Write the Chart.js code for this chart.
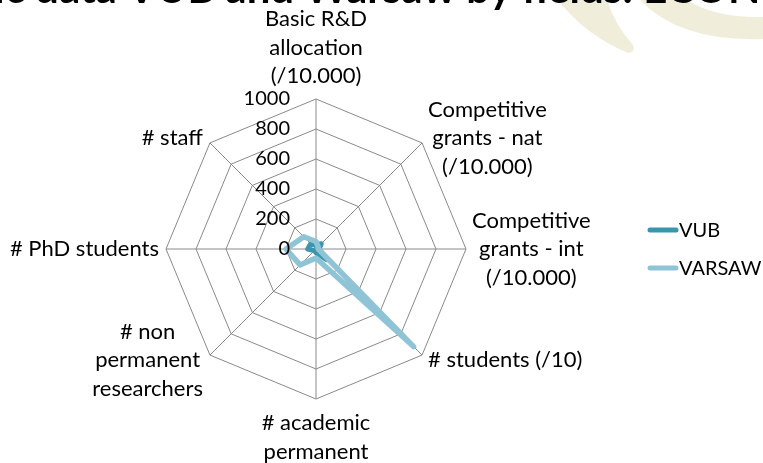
<!DOCTYPE html>
<html>
<head>
<meta charset="utf-8">
<script src="https://cdn.jsdelivr.net/npm/chart.js@4.4.1/dist/chart.umd.min.js"></script>
<style>
  html, body { margin: 0; padding: 0; background: #fff; }
  #wrap { width: 763px; height: 463px; position: relative; }
</style>
</head>
<body>
<div id="wrap"><canvas id="chart"></canvas></div>
<script>
const axisLabels = [
  ['Basic R&D', 'allocation', '(/10.000)'],
  ['Competitive', 'grants - nat', '(/10.000)'],
  ['Competitive', 'grants - int', '(/10.000)'],
  ['# students (/10)'],
  ['# academic', 'permanent'],
  ['# non', 'permanent', 'researchers'],
  ['# PhD students'],
  ['# staff'],
]
const vubValues = [25, 50, 20, 100, 25, 15, 55, 50]
const varsawValues = [50, 20, 15, 920, 60, 150, 200, 115]
const tickValues = [0, 200, 400, 600, 800, 1000]

const LABEL_FONT = '22px Lato'
const TICK_FONT = '20px Lato'
const LINE_H = 28.5

// pale swoosh + cut-off slide title behind the chart
const slideBackground = {
  id: 'slideBackground',
  beforeDraw(chart) {
    const ctx = chart.ctx
    ctx.save()
    ctx.fillStyle = '#fff'
    ctx.fillRect(0, 0, chart.width, chart.height)
    ctx.fillStyle = '#f0eedb'
    ctx.beginPath()
    ctx.moveTo(558, 0)
    ctx.quadraticCurveTo(585, 35, 628, 53)
    ctx.quadraticCurveTo(636, 52, 633, 45)
    ctx.quadraticCurveTo(615, 25, 607, 0)
    ctx.closePath()
    ctx.fill()
    ctx.beginPath()
    ctx.moveTo(640, 0)
    ctx.quadraticCurveTo(680, 42, 763, 39)
    ctx.lineTo(763, 17)
    ctx.quadraticCurveTo(715, 18, 687, 0)
    ctx.closePath()
    ctx.fill()
    ctx.fillStyle = '#000'
    ctx.font = 'bold 42px Lato'
    ctx.textBaseline = 'alphabetic'
    ctx.textAlign = 'left'
    ctx.fillText('ic data VUB and Warsaw by fields: ECONOMI', -6, 3)
    ctx.restore()
  },
}

const radarText = {
  id: 'radarText',
  afterDatasetsDraw(chart) {
    const ctx = chart.ctx
    const scale = chart.scales.r
    const cx = scale.xCenter
    const cy = scale.yCenter
    ctx.save()
    ctx.fillStyle = '#000'
    ctx.textBaseline = 'middle'

    // tick labels, left of the vertical axis
    ctx.font = TICK_FONT
    ctx.textAlign = 'right'
    tickValues.forEach((v) => {
      ctx.fillText(String(v), cx - 26, cy - scale.getDistanceFromCenterForValue(v))
    })

    // point labels
    ctx.font = LABEL_FONT
    ctx.textAlign = 'center'
    axisLabels.forEach((lines, i) => {
      const p = scale.getPointPosition(i, scale.drawingArea)
      const dx = p.x - cx
      const dy = p.y - cy
      const w = Math.max(...lines.map((l) => ctx.measureText(l).width))
      let midX, firstY
      if (Math.abs(dx) < 1) {
        midX = p.x
        firstY = dy < 0 ? p.y - 23 - (lines.length - 1) * LINE_H : p.y + 24
      } else {
        midX = dx > 0 ? p.x + 6 + w / 2 : p.x - 7 - w / 2
        const mid = Math.abs(dy) < 1 ? p.y : p.y + Math.sign(dy) * 5
        firstY = mid - ((lines.length - 1) * LINE_H) / 2
      }
      lines.forEach((l, k) => ctx.fillText(l, midX, firstY + k * LINE_H))
    })

    // legend
    ctx.font = TICK_FONT
    ctx.textAlign = 'left'
    ctx.lineCap = 'round'
    chart.data.datasets.forEach((ds, k) => {
      const y = 230 + k * 38
      ctx.strokeStyle = ds.borderColor
      ctx.lineWidth = 5
      ctx.beginPath()
      ctx.moveTo(650, y)
      ctx.lineTo(676, y)
      ctx.stroke()
      ctx.fillText(ds.label, 679, y + 1)
    })
    ctx.restore()
  },
}

new Chart(document.getElementById('chart'), {
  type: 'radar',
  data: {
    labels: axisLabels,
    datasets: [
      {
        label: 'VUB',
        data: vubValues,
        borderColor: '#3b95ad',
        borderWidth: 5,
        borderJoinStyle: 'round',
        fill: false,
        pointRadius: 0,
        order: 2,
      },
      {
        label: 'VARSAW',
        data: varsawValues,
        borderColor: '#8fc4d7',
        borderWidth: 5.5,
        borderJoinStyle: 'round',
        fill: false,
        pointRadius: 0,
        order: 1,
      },
    ],
  },
  options: {
    responsive: true,
    maintainAspectRatio: false,
    animation: false,
    layout: { padding: { left: 0, right: 131, top: 99, bottom: 64 } },
    scales: {
      r: {
        min: 0,
        max: 1000,
        ticks: { stepSize: 200, display: false },
        grid: { color: '#8a8a8a', lineWidth: 1 },
        angleLines: { color: '#8a8a8a', lineWidth: 1 },
        pointLabels: { display: false },
      },
    },
    plugins: {
      legend: { display: false },
      tooltip: { enabled: false },
    },
  },
  plugins: [slideBackground, radarText],
})
</script>
</body>
</html>
